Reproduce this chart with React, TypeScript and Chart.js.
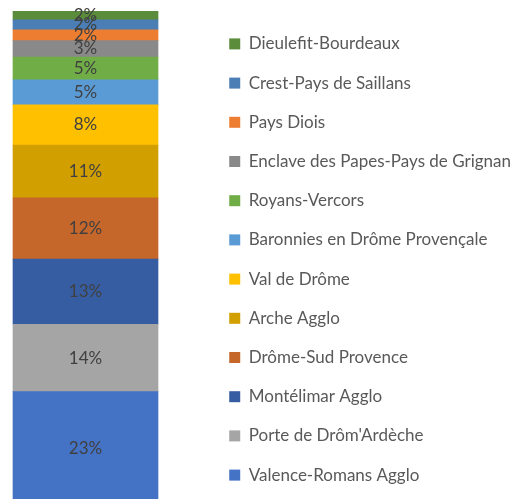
import React, { useEffect, useRef } from "react";
import { Chart, registerables } from "chart.js";

Chart.register(...registerables);

// bottom → top order of the stack
const regions = [
  "Valence-Romans Agglo",
  "Porte de Drôm'Ardèche",
  "Montélimar Agglo",
  "Drôme-Sud Provence",
  "Arche Agglo",
  "Val de Drôme",
  "Baronnies en Drôme Provençale",
  "Royans-Vercors",
  "Enclave des Papes-Pays de Grignan",
  "Pays Diois",
  "Crest-Pays de Saillans",
  "Dieulefit-Bourdeaux",
];
const shares = [23.0, 13.6, 13.2, 12.4, 10.7, 8.1, 5.1, 4.6, 3.3, 2.2, 2.0, 1.8];
const colors = [
  "#4472C4",
  "#A5A5A5",
  "#365DA2",
  "#C5662B",
  "#D29F00",
  "#FFC000",
  "#5B9BD5",
  "#70AD47",
  "#898989",
  "#ED7D31",
  "#4A7EB4",
  "#5A8C3B",
];
const category = [""];

const FONT = "Lato";
const LEGEND_SIZE = 17;
const LEGEND_PAD = 22.2;
const BOX = 11;

const labelPlugin = {
  id: "segLabels",
  afterDatasetsDraw(chart: any) {
    const ctx = chart.ctx;
    ctx.save();
    ctx.font = `17px ${FONT}`;
    ctx.fillStyle = "#404040";
    ctx.textAlign = "center";
    ctx.textBaseline = "middle";
    chart.data.datasets.forEach((ds: any, i: number) => {
      const meta = chart.getDatasetMeta(i);
      meta.data.forEach((el: any, j: number) => {
        const p = el.getProps(["x", "y", "base"], true);
        ctx.fillText(Math.round(ds.data[j]) + "%", p.x, (p.y + p.base) / 2);
      });
    });
    ctx.restore();
  },
};

export default function App() {
  const ref = useRef<HTMLCanvasElement>(null);
  useEffect(() => {
    if (!ref.current) return;
    const m = document.createElement("canvas").getContext("2d")!;
    m.font = `${LEGEND_SIZE}px ${FONT}`;
    const maxText = Math.max(...regions.map((r) => m.measureText(r).width));
    const padRight = 9;
    const textStart = 512 + padRight - 10 - maxText;
    const boxX = textStart - LEGEND_SIZE / 2 - BOX;
    const chartRight = 171;
    const yWidth = Math.max(0, boxX - LEGEND_PAD - chartRight);

    const chart = new Chart(ref.current, {
      type: "bar",
      data: {
        labels: category,
        datasets: regions.map((r, i) => ({
          label: r,
          data: [shares[i]],
          backgroundColor: colors[i],
          borderWidth: 0,
          barThickness: 145,
        })),
      },
      options: {
        responsive: false,
        animation: false,
        layout: { padding: { left: 0, right: -padRight, top: 0, bottom: 0 } },
        plugins: {
          tooltip: { enabled: false },
          legend: {
            position: "right",
            reverse: true,
            maxWidth: 400,
            labels: {
              boxWidth: BOX,
              boxHeight: BOX,
              padding: LEGEND_PAD,
              color: "#595959",
              font: { family: FONT, size: LEGEND_SIZE },
            },
          },
        },
        scales: {
          x: {
            stacked: true,
            position: "bottom",
            ticks: { display: false },
            grid: { display: false },
            border: { display: false },
            afterFit: (s: any) => {
              s.height = 519 - 505.4;
            },
          },
          xTop: {
            type: "category",
            position: "top",
            ticks: { display: false },
            grid: { display: false },
            border: { display: false },
            afterFit: (s: any) => {
              s.height = 11;
            },
          },
          y: {
            stacked: true,
            min: 0,
            max: 100,
            position: "right",
            ticks: { display: false },
            grid: { display: false },
            border: { display: false },
            afterFit: (s: any) => {
              s.width = yWidth;
            },
          },
        },
      },
      plugins: [labelPlugin],
    });
    return () => chart.destroy();
  }, []);

  return (
    <div
      style={{
        position: "fixed",
        left: 0,
        top: 0,
        width: 512,
        height: 499,
        overflow: "hidden",
        background: "#fff",
      }}
    >
      <canvas ref={ref} width={512} height={519} style={{ display: "block" }} />
    </div>
  );
}
